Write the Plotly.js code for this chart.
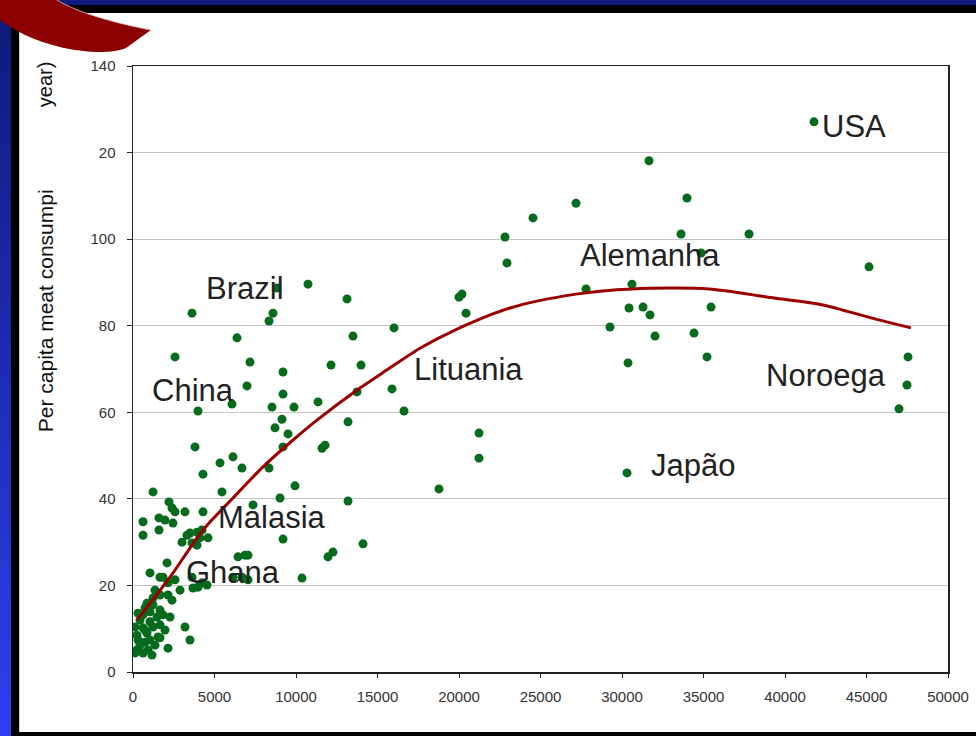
<!DOCTYPE html>
<html>
<head>
<meta charset="utf-8">
<script src="https://cdn.plot.ly/plotly-3.0.1.min.js"></script>
<style>
  html, body { margin:0; padding:0; }
  body { width:976px; height:736px; position:relative; overflow:hidden; background:#ffffff; }
  .fr { position:absolute; }
  #chart { position:absolute; left:0; top:0; width:976px; height:736px; z-index:1; }
  #swoosh { position:absolute; left:0; top:0; z-index:2; }
</style>
</head>
<body>
<div class="fr" style="left:0;top:0;width:976px;height:5px;background:#0f1a7c;"></div>
<div class="fr" style="left:0;top:5px;width:976px;height:8px;background:#000;"></div>
<div class="fr" style="left:0;top:0;width:11px;height:736px;background:linear-gradient(#0f1878,#2f3ff0);"></div>
<div class="fr" style="left:11px;top:13px;width:8px;height:723px;background:#000;"></div>
<div class="fr" style="left:19px;top:13px;width:1px;height:720px;background:#cfcfcf;"></div>
<div class="fr" style="left:11px;top:732px;width:965px;height:4px;background:#000;"></div>
<div id="chart"></div>
<svg id="swoosh" width="160" height="60" viewBox="0 0 160 60">
  <path d="M0,0 L57,0 C80,14 120,24 151,30 L126,48 C114,53 95,53 75,50 C45,45 20,35 0,20 Z" fill="#8c0000"/>
  <path d="M57,0 C80,14 120,24 151,30" fill="none" stroke="#e8c8c8" stroke-width="0.8"/>
</svg>
<script>
// Scatter points: GDP per capita (x) vs per capita meat consumption (y)
const gdp = [41779,31657,33988,27178,24540,22822,33620,37792,22945,34847,45154,27792,30613,20000,20184,20430,30430,31289,31718,35461,29264,32025,34418,35215,30368,47546,47485,46995,16626,21227,21227,30307,18773,
  8834,10736,13129,3620,8589,8344,6380,13497,16012,2577,7178,12147,13988,9203,6994,9203,13742,15890,6074,3988,8528,9877,11350,9141,8712,9509,13190,3804,11779,11595,6135,5337,6687,4295,8344,9203,9939,1227,5460,9018,13190,2209,2393,2577,3190,4295,1595,1963,614,2454,614,1595,3497,3926,4233,3313,3006,4110,4601,3926,3620,7362,9203,14111,12270,11963,6442,6871,7055,2086,1043,1656,1841,2577,3620,4233,4540,3681,3988,6135,6687,7055,10368,2147,1656,1227,2147,859,1227,1043,1656,307,614,1472,1841,2270,429,1043,123,614,1227,859,1534,3190,3497,1656,307,736,2147,245,614,1166,123,
  736,1043,429,1350,920,1656,245,1963,736,2393,2883,1350];
const meat = [127.1,118.1,109.5,108.3,104.9,100.5,101.2,101.2,94.5,96.8,93.6,88.5,89.6,86.6,87.3,82.9,84.1,84.3,82.5,84.3,79.7,77.6,78.3,72.8,71.4,72.8,66.3,60.8,60.3,55.2,49.4,46.0,42.3,
  88.7,89.6,86.2,82.9,82.9,81.1,77.2,77.6,79.5,72.8,71.6,70.9,70.9,69.3,66.1,64.2,64.7,65.4,61.9,60.3,61.2,61.2,62.4,58.4,56.4,55.0,57.8,52.0,52.4,51.7,49.7,48.3,47.1,45.7,47.1,52.0,43.0,41.6,41.6,40.2,39.5,39.3,37.9,37.0,37.0,37.0,35.6,35.1,34.7,34.4,31.6,32.8,32.1,32.3,32.8,31.6,30.0,31.0,31.0,29.3,29.8,38.6,30.7,29.6,27.7,26.6,26.6,27.0,27.0,25.2,22.9,21.9,21.9,21.3,21.9,20.6,20.1,19.4,19.6,21.9,21.9,21.3,21.7,20.6,17.8,17.1,17.8,15.9,15.5,13.9,14.3,13.6,13.2,12.7,13.2,12.7,12.0,11.6,10.4,10.2,10.4,9.0,8.1,10.4,7.4,7.9,7.4,6.9,5.5,5.1,4.4,3.9,4.4,
  9.7,7.4,6.2,6.2,5.1,10.9,8.5,9.7,14.8,16.6,18.9,18.9];

// Trend line
const trendX = [245,2270,4295,6135,7976,9816,11288,13926,15583,17607,19755,23130,27178,30613,35337,38957,42330,45276,47730];
const trendY = [12.0,21.9,32.8,40.2,47.4,53.6,58.2,65.6,69.8,74.8,79.0,84.1,87.3,88.5,88.5,86.6,84.8,81.8,79.5];

// Country labels
const labelNames = ["USA","Alemanha","Brazil","China","Lituania","Noroega","Japão","Malasia","Ghana"];
const labelX = [42150,27300,4356,1043,17117,38681,31657,5092,3129];
const labelY = [126.1,96.3,88.5,65.1,69.8,68.4,47.8,35.8,22.9];

// Axis ticks
const xTickVals = [0,5000,10000,15000,20000,25000,30000,35000,40000,45000,50000];
const xTickText = ["0","5000","10000","15000","20000","25000","30000","35000","40000","45000","50000"];
const yTickVals = [0,20,40,60,80,100,120,140];
const yTickText = ["0","20","40","60","80","100","20","140"];
const yTitleParts = ["Per capita meat consumpi","year)"];

const traces = [
  {x: gdp, y: meat, type:'scatter', mode:'markers',
   marker:{color:'#066b1c', size:9}, hoverinfo:'skip'},
  {x: trendX, y: trendY, type:'scatter', mode:'lines',
   line:{color:'#9a0000', width:3, shape:'spline', smoothing:0.8}, hoverinfo:'skip'}
];

const annotations = labelNames.map((t,i)=>({
  text:t, x:labelX[i], y:labelY[i], xref:'x', yref:'y',
  xanchor:'left', yanchor:'middle', showarrow:false,
  font:{family:'Liberation Sans, Arial, sans-serif', size:31, color:'#222'}
}));
annotations.push({text:yTitleParts[0], xref:'paper', yref:'paper', x:-0.108, y:0.597,
  textangle:-90, showarrow:false, xanchor:'center', yanchor:'middle',
  font:{family:'Liberation Sans, Arial, sans-serif', size:21, color:'#111'}});
annotations.push({text:yTitleParts[1], xref:'paper', yref:'paper', x:-0.108, y:0.970,
  textangle:-90, showarrow:false, xanchor:'center', yanchor:'middle',
  font:{family:'Liberation Sans, Arial, sans-serif', size:20, color:'#111'}});

const layout = {
  width:976, height:736,
  margin:{l:133, r:28, t:66, b:64, pad:0},
  paper_bgcolor:'rgba(0,0,0,0)',
  plot_bgcolor:'#ffffff',
  showlegend:false,
  font:{family:'Liberation Sans, Arial, sans-serif', color:'#333'},
  xaxis:{range:[0,50000], tickvals:xTickVals, ticktext:xTickText,
    showgrid:false, zeroline:false, showline:true, linecolor:'#222', linewidth:1.5, mirror:true,
    ticks:'outside', ticklen:4, tickcolor:'#222', tickfont:{size:15, color:'#333'}, ticklabelstandoff:6},
  yaxis:{range:[0,140], tickvals:yTickVals, ticktext:yTickText,
    showgrid:true, gridcolor:'#c4c4c4', gridwidth:1, zeroline:false,
    showline:true, linecolor:'#222', linewidth:1.5, mirror:true,
    ticks:'outside', ticklen:5, tickcolor:'#222', tickfont:{size:15, color:'#333'}, ticklabelstandoff:8},
  annotations: annotations
};

Plotly.newPlot('chart', traces, layout, {staticPlot:true, displayModeBar:false});
</script>
</body>
</html>
